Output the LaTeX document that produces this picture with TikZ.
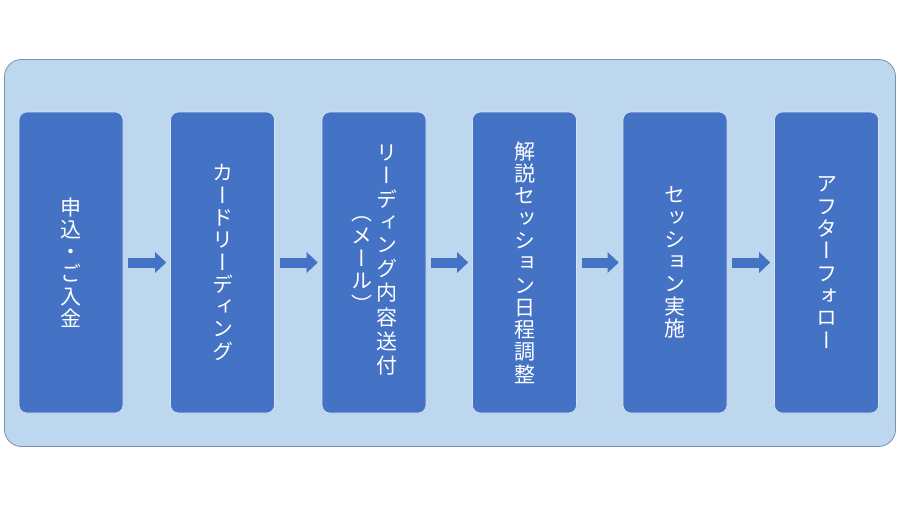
\documentclass[tikz,border=0pt]{standalone}
\usepackage{fontspec}
\newfontfamily\jpv[RawFeature={+vert}]{Noto Sans CJK JP}
\usetikzlibrary{arrows.meta}
\definecolor{bgfill}{HTML}{BDD7EE}
\definecolor{bgline}{HTML}{7891AD}
\definecolor{boxblue}{HTML}{4472C4}
\begin{document}
\begin{tikzpicture}[x=1pt,y=-1pt,
  panelbox/.style={draw=bgline, fill=bgfill, line width=0.8pt, rounded corners=17pt,
    minimum width=891pt, minimum height=387pt, inner sep=0pt},
  stepbox/.style={draw=white!80!boxblue, line width=0.6pt, fill=boxblue, rounded corners=8pt,
    minimum width=104pt, minimum height=301pt, inner sep=0pt, text=white, align=center,
    font=\jpv\fontsize{21}{22.3}\selectfont},
  flowarrow/.style={draw=boxblue, line width=10pt, -{Triangle[length=11pt,width=20pt]}}]
\useasboundingbox (0,0) rectangle (900,506);
\node[panelbox] (panel) at (450,253) {};
\node[stepbox] (s1) at (71,262.5) {申\\込\\・\\ご\\入\\金};
\node[stepbox] (s2) at (222.5,262.5) {カ\\ー\\ド\\リ\\ー\\デ\\ィ\\ン\\グ};
\node[stepbox] (s3) at (374,262.5) {\begin{tabular}{@{}c@{\hspace{4pt}}c@{}}\begin{tabular}{@{}c@{}}（\\メ\\ー\\ル\\）\end{tabular}&\begin{tabular}{@{}c@{}}リ\\ー\\デ\\ィ\\ン\\グ\\内\\容\\送\\付\end{tabular}\end{tabular}};
\node[stepbox] (s4) at (524.5,262.5) {解\\説\\セ\\ッ\\シ\\ョ\\ン\\日\\程\\調\\整};
\node[stepbox] (s5) at (675,262.5) {セ\\ッ\\シ\\ョ\\ン\\実\\施};
\node[stepbox] (s6) at (826.5,262.5) {ア\\フ\\タ\\ー\\フ\\ォ\\ロ\\ー};
\draw[flowarrow] ([xshift=5pt]s1.east) -- ([xshift=-4pt]s2.west);
\draw[flowarrow] ([xshift=5pt]s2.east) -- ([xshift=-4pt]s3.west);
\draw[flowarrow] ([xshift=5pt]s3.east) -- ([xshift=-4pt]s4.west);
\draw[flowarrow] ([xshift=5pt]s4.east) -- ([xshift=-4pt]s5.west);
\draw[flowarrow] ([xshift=5pt]s5.east) -- ([xshift=-4pt]s6.west);
\end{tikzpicture}
\end{document}
